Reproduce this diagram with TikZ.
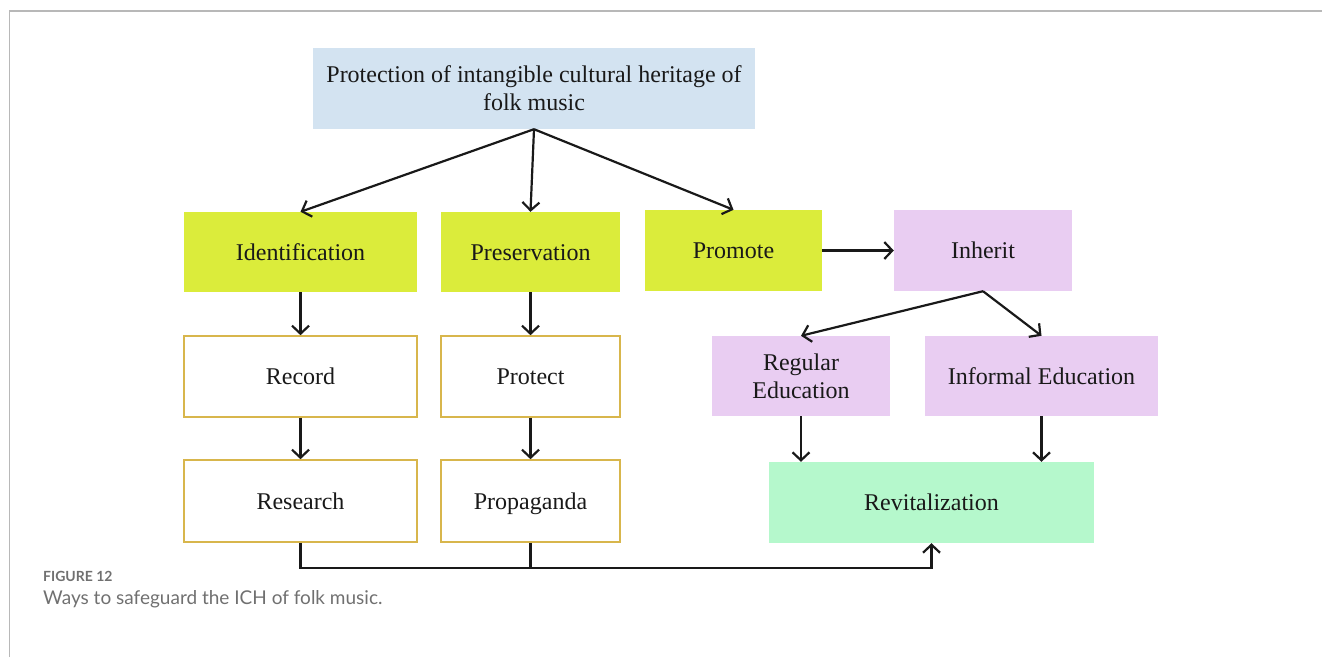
\documentclass[tikz,border=0pt]{standalone}
\usepackage{fontspec}
\setmainfont{Liberation Serif}
\newfontfamily\capfont{Lato}
\usetikzlibrary{arrows.meta,positioning}
\definecolor{topblue}{HTML}{D3E3F1}
\definecolor{lime}{HTML}{DBEC3B}
\definecolor{lilac}{HTML}{E9CDF2}
\definecolor{mint}{HTML}{B5F8CC}
\definecolor{gold}{HTML}{D8B64C}
\definecolor{framegray}{HTML}{B8B8B8}
\definecolor{capgray}{HTML}{707070}
\tikzset{
  box/.style={inner sep=0pt, align=center, font=\fontsize{24}{28}\selectfont, text=black!90},
  oneline/.style={text height=21.5pt, text depth=5pt},
  filled/.style={box, draw=none},
  outlined/.style={box, oneline, fill=white, draw=gold, line width=1.6pt},
  conn/.style={line width=2.2pt, black!90, -{Straight Barb[length=8pt,width=17pt,line width=2.2pt]}},
  plain/.style={line width=2.2pt, black!90},
}
\begin{document}
\begin{tikzpicture}[x=1pt,y=-1pt]
\useasboundingbox (0,0) rectangle (1322,657);
\draw[framegray, line width=1.6pt] (9.5,657) -- (9.5,11) -- (1322,11);

\node[filled, fill=topblue, minimum width=442pt, minimum height=81pt] (top) at (534,88.5)
  {Protection of intangible cultural heritage of\\folk music};

\node[filled, oneline, fill=lime, minimum width=233pt, minimum height=80pt] (ident) at (300.5,252) {Identification};
\node[filled, oneline, fill=lime, minimum width=179pt, minimum height=80pt] (pres) at (530.5,252) {Preservation};
\node[filled, oneline, fill=lime, minimum width=177pt, minimum height=81pt] (prom) at (733.5,250.5) {Promote};
\node[filled, oneline, fill=lilac, minimum width=178pt, minimum height=81pt] (inh) at (983,250.5) {Inherit};

\node[outlined, minimum width=233pt, minimum height=81pt] (rec) at (300.5,376.5) {Record};
\node[outlined, minimum width=179pt, minimum height=81pt] (prot) at (530.5,376.5) {Protect};
\node[outlined, minimum width=233pt, minimum height=82pt] (res) at (300.5,501) {Research};
\node[outlined, minimum width=179pt, minimum height=82pt] (prop) at (530.5,501) {Propaganda};

\node[filled, fill=lilac, minimum width=178pt, minimum height=80pt] (reg) at (801,376) {Regular\\Education};
\node[filled, oneline, fill=lilac, minimum width=233pt, minimum height=80pt] (inf) at (1041.5,376) {Informal Education};
\node[filled, oneline, fill=mint, minimum width=325pt, minimum height=81pt] (rev) at (931.5,502.5) {Revitalization};

\draw[conn] (top.south) -- (ident.north);
\draw[conn] (top.south) -- (pres.north);
\draw[conn] (top.south) -- (prom.north);
\draw[conn] (prom.east) -- (inh.west);
\draw[conn] (ident.south) -- (rec.north);
\draw[conn] (pres.south) -- (prot.north);
\draw[conn] (rec.south) -- (res.north);
\draw[conn] (prot.south) -- (prop.north);
\draw[conn] (inh.south) -- (reg.north);
\draw[conn] (inh.south) -- (inf.north);
\draw[conn] (reg.south) -- (reg.south |- rev.north);
\draw[conn] (inf.south) -- (inf.south |- rev.north);

\coordinate (j) at (530.5,568);
\draw[conn] (res.south) |- (j) -| (rev.south);
\draw[plain] (prop.south) -- (j);

\node[anchor=west, inner sep=0pt, text=capgray, font=\capfont\bfseries\fontsize{14}{16}\selectfont] (fig) at (43,576) {FIGURE 12};
\node[anchor=west, inner sep=0pt, text=capgray, font=\capfont\fontsize{19}{21}\selectfont] (cap) at (43,599) {Ways to safeguard the ICH of folk music.};
\end{tikzpicture}
\end{document}
